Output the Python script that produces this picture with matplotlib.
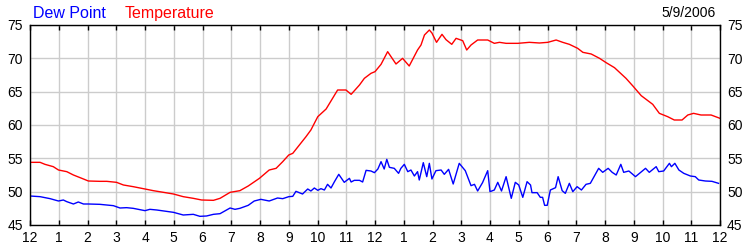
import matplotlib
import matplotlib.pyplot as plt

matplotlib.use("Agg")

plt.rcParams["font.family"] = ["Liberation Sans", "DejaVu Sans"]

# hours since midnight, 5/9/2006
temp_hours = [
    0.00, 0.35, 0.52, 0.81, 0.99, 1.28, 1.51, 1.86, 2.03, 2.43, 2.67, 3.01,
    3.25, 3.59, 4.00, 4.29, 4.64, 4.99, 5.33, 5.68, 5.97, 6.38, 6.61, 6.96,
    7.30, 7.59, 7.98, 8.32, 8.56, 8.79, 9.00, 9.14, 9.37, 9.60, 9.77, 10.01,
    10.30, 10.70, 10.99, 11.17, 11.46, 11.63, 11.86, 12.00, 12.21, 12.44,
    12.73, 12.96, 13.19, 13.48, 13.60, 13.72, 13.89, 13.98, 14.14, 14.33,
    14.47, 14.67, 14.82, 15.05, 15.19, 15.34, 15.57, 15.92, 16.15, 16.33,
    16.56, 16.97, 17.37, 17.72, 18.01, 18.30, 18.53, 18.76, 19.05, 19.23,
    19.52, 19.81, 20.04, 20.33, 20.73, 20.97, 21.26, 21.66, 21.89, 22.18,
    22.41, 22.68, 22.88, 23.08, 23.34, 23.69, 24.00,
]
temperature = [
    54.4, 54.4, 54.1, 53.75, 53.25, 53.0, 52.5, 51.9, 51.6, 51.55, 51.55, 51.4,
    51.0, 50.75, 50.4, 50.15, 49.9, 49.65, 49.25, 49.0, 48.75, 48.7, 49.0, 49.9,
    50.15, 50.85, 52.0, 53.25, 53.5, 54.5, 55.5, 55.75, 57.0, 58.25, 59.25, 61.25,
    62.4, 65.25, 65.25, 64.6, 66.0, 67.0, 67.75, 68.0, 69.1, 71.0,
    69.15, 70.0, 68.85, 71.25, 72.0, 73.5, 74.25, 73.8, 72.4, 73.6,
    72.8, 72.1, 73.0, 72.65, 71.25, 72.0, 72.75, 72.75, 72.25, 72.4,
    72.25, 72.25, 72.4, 72.3, 72.4, 72.75, 72.4, 72.1, 71.5, 70.9,
    70.65, 70.0, 69.35, 68.6, 67.0, 65.85, 64.4, 63.1, 61.75, 61.25,
    60.75, 60.75, 61.5, 61.75, 61.5, 61.5, 61.0,
]

dew_hours = [
    0.00, 0.35, 0.70, 0.99, 1.16, 1.28, 1.51, 1.68, 1.86, 2.03, 2.43, 2.90,
    3.13, 3.36, 3.59, 4.00, 4.17, 4.41, 4.75, 4.99, 5.33, 5.68, 5.91, 6.14,
    6.38, 6.61, 6.96, 7.13, 7.30, 7.59, 7.80, 8.03, 8.32, 8.61, 8.79, 9.00,
    9.14, 9.25, 9.48, 9.66, 9.77, 9.89, 10.01, 10.12, 10.24, 10.35, 10.47,
    10.59, 10.74, 10.93, 11.11, 11.17, 11.28, 11.46, 11.57, 11.69, 11.86,
    11.98, 12.10, 12.21, 12.32, 12.41, 12.50, 12.67, 12.82, 12.90, 13.02,
    13.14, 13.25, 13.37, 13.48, 13.54, 13.68, 13.80, 13.89, 13.98, 14.12,
    14.30, 14.41, 14.56, 14.72, 14.93, 15.14, 15.34, 15.46, 15.57, 15.74,
    15.92, 16.00, 16.15, 16.27, 16.40, 16.56, 16.74, 16.88, 17.00, 17.14,
    17.29, 17.41, 17.46, 17.64, 17.75, 17.83, 17.90, 17.99, 18.10, 18.28,
    18.37, 18.51, 18.62, 18.76, 18.88, 19.03, 19.18, 19.34, 19.49, 19.78,
    19.92, 20.11, 20.25, 20.39, 20.55, 20.65, 20.83, 21.06, 21.41, 21.54,
    21.78, 21.87, 22.04, 22.24, 22.31, 22.43, 22.57, 22.74, 22.97, 23.14,
    23.26, 23.49, 23.72, 23.95,
]
dew_point = [
    49.35, 49.25, 48.95, 48.6, 48.75, 48.5, 48.15, 48.45, 48.15, 48.15, 48.1, 47.9,
    47.55, 47.6, 47.5, 47.15, 47.35, 47.25, 47.05, 46.9, 46.5, 46.6, 46.3, 46.35,
    46.6, 46.7, 47.55, 47.35, 47.5, 47.95, 48.6, 48.85, 48.6, 49.05, 48.95, 49.25,
    49.3, 50.05, 49.65, 50.4, 50.1, 50.55, 50.2, 50.45, 50.25, 51.1, 50.55,
    51.5, 52.6, 51.4, 52.0, 51.45, 51.7, 51.7, 51.45, 53.2, 53.1,
    52.85, 53.4, 54.5, 53.4, 54.85, 53.65, 53.5, 52.75, 53.5, 54.1,
    53.0, 53.25, 52.35, 53.0, 51.75, 54.35, 52.25, 54.25, 51.9, 53.15,
    53.25, 52.6, 53.35, 51.15, 54.25, 53.15, 50.9, 51.1, 50.1, 51.35,
    53.15, 50.0, 50.25, 51.4, 50.1, 52.25, 49.0, 51.4, 51.0, 49.15,
    51.5, 51.0, 49.85, 49.85, 49.15, 49.15, 47.95, 47.95, 50.25, 50.6,
    52.25, 50.15, 49.75, 51.25, 50.0, 50.75, 50.25, 51.1, 51.25, 53.5,
    52.9, 53.5, 52.9, 52.5, 54.1, 52.9, 53.1, 52.25, 53.5, 52.9,
    53.75, 53.0, 53.1, 54.25, 53.75, 54.25, 53.25, 52.75, 52.35, 52.25,
    51.75, 51.6, 51.55, 51.25,
]

hour_ticks = list(range(0, 25))
hour_labels = ["12"] + [str(h) for h in range(1, 12)] + ["12"] + [str(h) for h in range(1, 12)] + ["12"]
y_ticks = [45, 50, 55, 60, 65, 70, 75]

fig = plt.figure(figsize=(7.5, 2.5), dpi=100)
ax = fig.add_axes([0.04, 0.1, 0.92, 0.8])

ax.plot(temp_hours, temperature, color="#ff0000", lw=1.0)
ax.plot(dew_hours, dew_point, color="#0000ff", lw=1.0)

ax.set_xlim(0, 24)
ax.set_ylim(45, 75)
ax.set_xticks(hour_ticks)
ax.set_xticklabels(hour_labels)
ax.set_yticks(y_ticks)
ax.grid(True, color="#cccccc", lw=1.0)
ax.set_axisbelow(True)

for s in ax.spines.values():
    s.set_color("black")
    s.set_linewidth(1.0)

# x ticks point inward on both top and bottom, y has labels only
ax.tick_params(axis="x", which="both", top=True, bottom=True, direction="in",
               length=3.6, width=1, labelsize=10, pad=4.5)
ax.tick_params(axis="y", which="both", left=True, right=True, labelleft=True,
               labelright=True, length=0, labelsize=10, pad=5)

fig.text(33 / 750, 1 - 18 / 250, "Dew Point", color="#0000ff", fontsize=11.5,
         va="baseline", ha="left")
fig.text(125 / 750, 1 - 18 / 250, "Temperature", color="#ff0000", fontsize=11.5,
         va="baseline", ha="left")
fig.text(716 / 750, 1 - 17 / 250, "5/9/2006", color="black", fontsize=10,
         va="baseline", ha="right")

fig.savefig("out.png", dpi=100)
